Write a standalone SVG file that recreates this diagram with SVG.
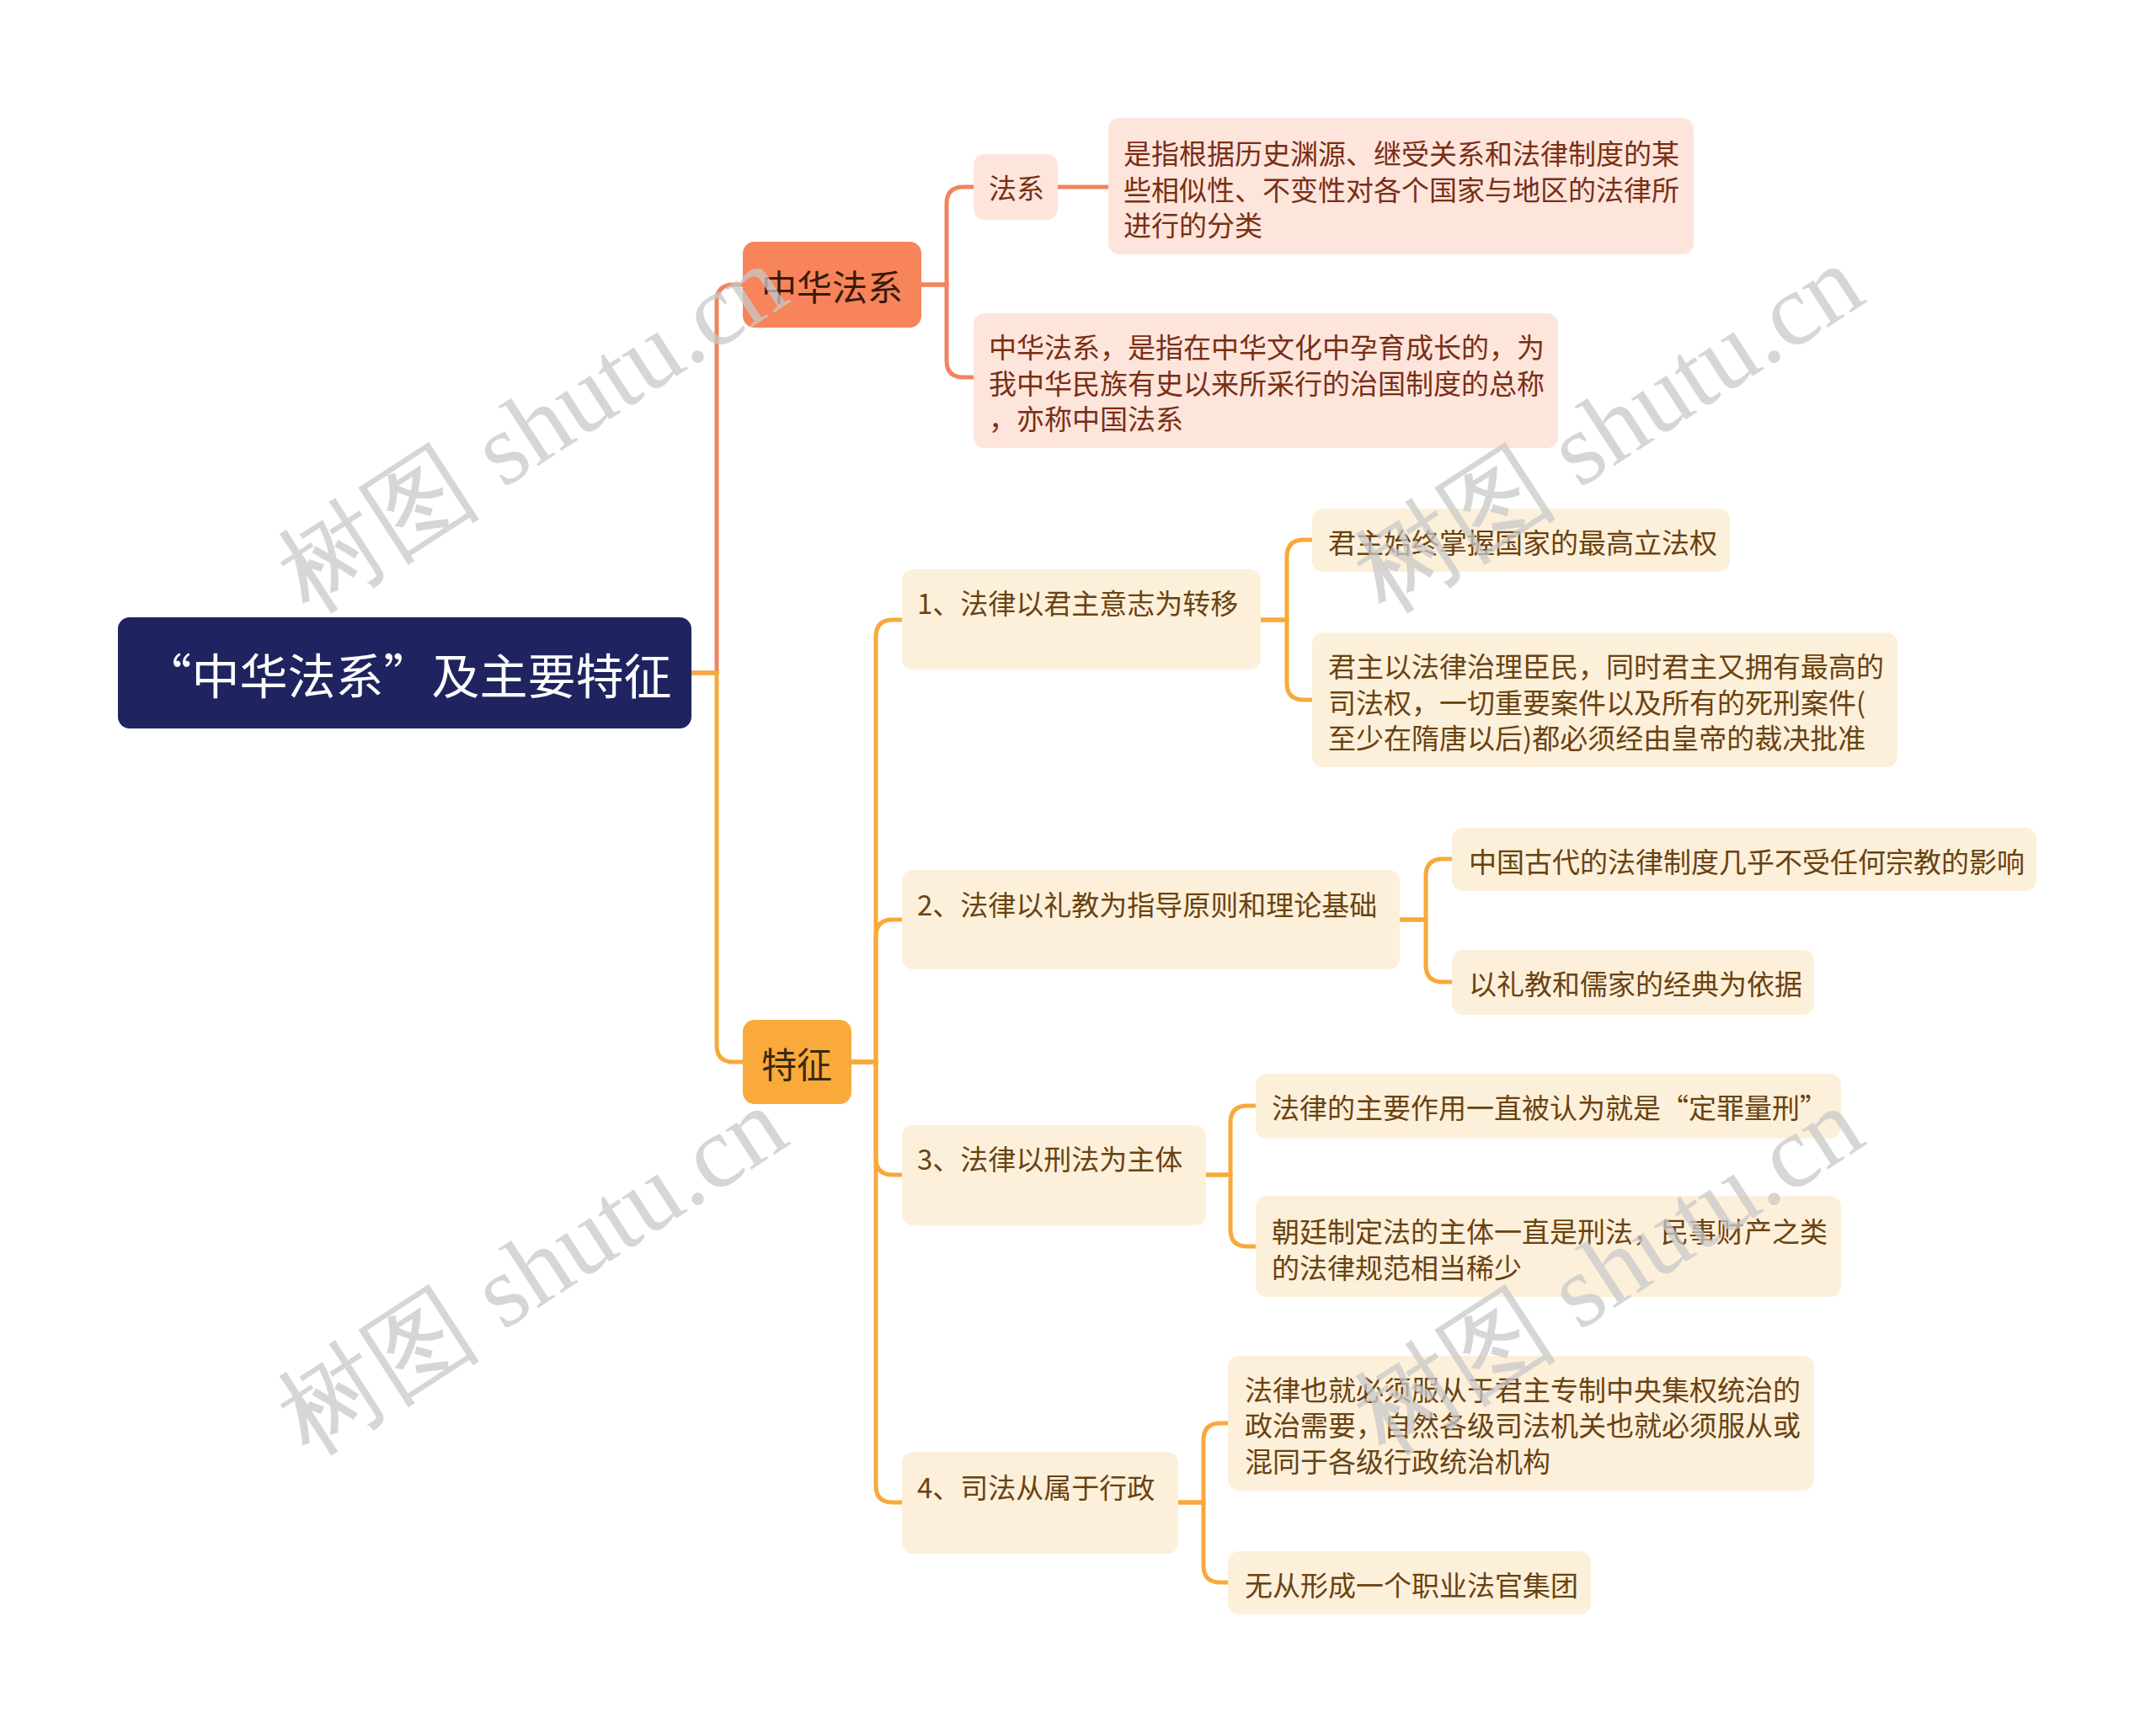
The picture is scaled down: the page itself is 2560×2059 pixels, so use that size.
<svg xmlns="http://www.w3.org/2000/svg" width="2560" height="2059" viewBox="0 0 2560 2059">
<style>
text{font-family:"Noto Sans CJK SC","Noto Sans",sans-serif;dominant-baseline:central}
.c1{fill:none;stroke:#F0845C;stroke-width:5;stroke-linecap:round}
.c2{fill:none;stroke:#F8A93B;stroke-width:5;stroke-linecap:round}
.pk{fill:#FDE5DC}
.cr{fill:#FDF0DA}
.tp{font-size:33px;fill:#7A2E14}
.tc{font-size:33px;fill:#6A4211}
.wm{font-family:"Liberation Serif",serif;font-size:122px;fill:#C8C8C8;fill-opacity:0.75;dominant-baseline:auto}
</style>
<rect width="2560" height="2059" fill="#FFFFFF"/>
<g id="connectors">
<path class="c1" d="M821 799 H851 V358 Q851 338 871 338 H882"/>
<path class="c2" d="M821 799 H851 V1241 Q851 1261 871 1261 H882"/>
<path class="c1" d="M1094 338 H1124 V242 Q1124 222 1144 222 H1156"/>
<path class="c1" d="M1094 338 H1124 V428 Q1124 448 1144 448 H1156"/>
<path class="c1" d="M1256 222 H1316"/>
<path class="c2" d="M1011 1261 H1040 V756 Q1040 736 1060 736 H1071"/>
<path class="c2" d="M1011 1261 H1040 V1112 Q1040 1092 1060 1092 H1071"/>
<path class="c2" d="M1011 1261 H1040 V1375 Q1040 1395 1060 1395 H1071"/>
<path class="c2" d="M1011 1261 H1040 V1764 Q1040 1784 1060 1784 H1071"/>
<path class="c2" d="M1497 736 H1528 V661 Q1528 641 1548 641 H1558"/>
<path class="c2" d="M1497 736 H1528 V811 Q1528 831 1548 831 H1558"/>
<path class="c2" d="M1662 1092 H1693 V1040 Q1693 1020 1713 1020 H1724"/>
<path class="c2" d="M1662 1092 H1693 V1146 Q1693 1166 1713 1166 H1724"/>
<path class="c2" d="M1432 1395 H1461 V1333 Q1461 1313 1481 1313 H1491"/>
<path class="c2" d="M1432 1395 H1461 V1460 Q1461 1480 1481 1480 H1491"/>
<path class="c2" d="M1399 1784 H1429 V1710 Q1429 1690 1449 1690 H1458"/>
<path class="c2" d="M1399 1784 H1429 V1859 Q1429 1879 1449 1879 H1458"/>
</g>
<g id="root">
<rect x="140" y="733" width="681" height="132" rx="14" fill="#1F2460"/>
<text x="484" y="799" text-anchor="middle" font-size="57" fill="#FFFFFF">“中华法系”及主要特征</text>
</g>
<g id="n-zhonghua">
<rect x="882" y="287" width="212" height="102" rx="14" fill="#F7845A"/>
<text x="988" y="338" text-anchor="middle" font-size="42" fill="#3A1A0C">中华法系</text>
</g>
<g id="n-tezheng">
<rect x="882" y="1211" width="129" height="100" rx="14" fill="#F9AA3B"/>
<text x="946" y="1261" text-anchor="middle" font-size="42" fill="#3A2A10">特征</text>
</g>
<g id="n-faxi">
<rect class="pk" x="1156" y="183" width="100" height="78" rx="13"/>
<text class="tp" x="1174" y="222">法系</text>
</g>
<g id="n-def1">
<rect class="pk" x="1316" y="140" width="695" height="162" rx="13"/>
<text class="tp" x="1334" y="181">是指根据历史渊源、继受关系和法律制度的某</text>
<text class="tp" x="1334" y="224">些相似性、不变性对各个国家与地区的法律所</text>
<text class="tp" x="1334" y="266">进行的分类</text>
</g>
<g id="n-def2">
<rect class="pk" x="1156" y="372" width="694" height="160" rx="13"/>
<text class="tp" x="1174" y="411">中华法系，是指在中华文化中孕育成长的，为</text>
<text class="tp" x="1174" y="454">我中华民族有史以来所采行的治国制度的总称</text>
<text class="tp" x="1174" y="496">，亦称中国法系</text>
</g>
<g id="n-1">
<rect class="cr" x="1071" y="676" width="426" height="119" rx="13"/>
<text class="tc" x="1089" y="715">1、法律以君主意志为转移</text>
</g>
<g id="n-1a">
<rect class="cr" x="1558" y="604" width="496" height="75" rx="13"/>
<text class="tc" x="1577" y="643">君主始终掌握国家的最高立法权</text>
</g>
<g id="n-1b">
<rect class="cr" x="1558" y="751" width="695" height="160" rx="13"/>
<text class="tc" x="1577" y="790">君主以法律治理臣民，同时君主又拥有最高的</text>
<text class="tc" x="1577" y="833">司法权，一切重要案件以及所有的死刑案件(</text>
<text class="tc" x="1577" y="875">至少在隋唐以后)都必须经由皇帝的裁决批准</text>
</g>
<g id="n-2">
<rect class="cr" x="1071" y="1033" width="591" height="118" rx="13"/>
<text class="tc" x="1089" y="1073">2、法律以礼教为指导原则和理论基础</text>
</g>
<g id="n-2a">
<rect class="cr" x="1724" y="983" width="694" height="75" rx="13"/>
<text class="tc" x="1744" y="1022">中国古代的法律制度几乎不受任何宗教的影响</text>
</g>
<g id="n-2b">
<rect class="cr" x="1724" y="1128" width="430" height="77" rx="13"/>
<text class="tc" x="1744" y="1167">以礼教和儒家的经典为依据</text>
</g>
<g id="n-3">
<rect class="cr" x="1071" y="1336" width="361" height="119" rx="13"/>
<text class="tc" x="1089" y="1375">3、法律以刑法为主体</text>
</g>
<g id="n-3a">
<rect class="cr" x="1491" y="1275" width="695" height="77" rx="13"/>
<text class="tc" x="1510" y="1314">法律的主要作用一直被认为就是“定罪量刑”</text>
</g>
<g id="n-3b">
<rect class="cr" x="1491" y="1420" width="695" height="120" rx="13"/>
<text class="tc" x="1510" y="1461">朝廷制定法的主体一直是刑法，民事财产之类</text>
<text class="tc" x="1510" y="1504">的法律规范相当稀少</text>
</g>
<g id="n-4">
<rect class="cr" x="1071" y="1724" width="328" height="121" rx="13"/>
<text class="tc" x="1089" y="1765">4、司法从属于行政</text>
</g>
<g id="n-4a">
<rect class="cr" x="1458" y="1610" width="696" height="160" rx="13"/>
<text class="tc" x="1478" y="1649">法律也就必须服从于君主专制中央集权统治的</text>
<text class="tc" x="1478" y="1691">政治需要，自然各级司法机关也就必须服从或</text>
<text class="tc" x="1478" y="1734">混同于各级行政统治机构</text>
</g>
<g id="n-4b">
<rect class="cr" x="1458" y="1842" width="431" height="75" rx="13"/>
<text class="tc" x="1478" y="1881">无从形成一个职业法官集团</text>
</g>
<g id="watermarks">
<text class="wm" transform="translate(632,510) rotate(-33)" text-anchor="middle" y="40">树图 shutu.cn</text>
<text class="wm" transform="translate(1910,510) rotate(-33)" text-anchor="middle" y="40">树图 shutu.cn</text>
<text class="wm" transform="translate(632,1510) rotate(-33)" text-anchor="middle" y="40">树图 shutu.cn</text>
<text class="wm" transform="translate(1910,1510) rotate(-33)" text-anchor="middle" y="40">树图 shutu.cn</text>
</g>
</svg>
